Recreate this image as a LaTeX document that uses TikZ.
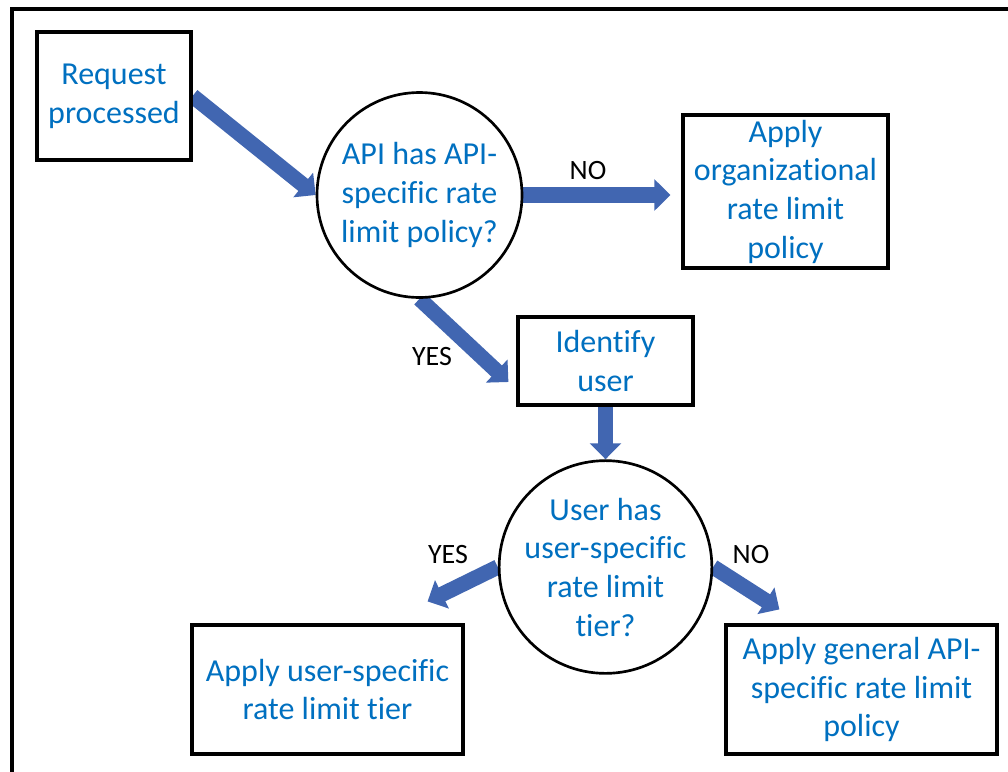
\documentclass[tikz,border=0pt]{standalone}
\usepackage{fontspec}
\setmainfont{Carlito}[Ligatures=NoCommon]
\usetikzlibrary{arrows.meta,backgrounds}
\definecolor{txtblue}{HTML}{0070C0}
\definecolor{arrblue}{HTML}{4166B1}
\begin{document}
\begin{tikzpicture}[x=0.75pt,y=-0.75pt,
  box/.style={draw=black, line width=2.4pt, fill=white, inner sep=0pt, align=center,
    text=txtblue, font=\fontsize{24}{29}\selectfont},
  dec/.style={draw=black, line width=2pt, fill=white, circle, inner sep=0pt,
    minimum size=153.75pt, align=center, text=txtblue, font=\fontsize{24}{29}\selectfont},
  flow/.style={draw=arrblue, line width=11.5pt, -{Triangle[length=12pt,width=23pt]}},
  lbl/.style={font=\fontsize{21}{25}\selectfont, text=black, inner sep=0pt}]
\useasboundingbox (0,0) rectangle (1008,772);
\draw[line width=2.4pt] (12,9) rectangle (1040,800);

\node[box, minimum width=115.5pt, minimum height=96pt] (req) at (114,96) {Request\\processed};
\node[dec] (c1) at (419.5,195) {API has API-\\specific rate\\limit policy?};
\node[box, minimum width=153.75pt, minimum height=114.75pt] (org) at (785.5,191.5) {Apply\\organizational\\rate limit\\policy};
\node[box, minimum width=131.25pt, minimum height=66pt] (id) at (605.5,361) {Identify\\user};
\node[dec] (c2) at (605.5,567) {User has\\user-specific\\rate limit\\tier?};
\node[box, minimum width=203.25pt, minimum height=96.75pt] (ua) at (327.5,689.5) {Apply user-specific\\rate limit tier};
\node[box, minimum width=203.25pt, minimum height=96.75pt] (ug) at (861.5,689.5) {Apply general API-\\specific rate limit\\policy};

\coordinate (yes1tip) at ([shift={(-8,21)}]id.west);
\coordinate (yes2tip) at ([shift={(-37,-22)}]ua.north east);
\coordinate (no2tip) at ([shift={(55,-14)}]ug.north west);

\begin{scope}[on background layer]
\draw[flow] (req.east) -- (c1.west);
\draw[flow, shorten >=8.25pt] (c1.east) -- (c1.east -| org.west);
\draw[flow] (c1.south) -- (yes1tip);
\draw[flow] (id.south) -- (c2.north);
\draw[flow] (c2.west) -- (yes2tip);
\draw[flow] (c2.east) -- (no2tip);
\end{scope}

\node[lbl] (no1) at (588,171) {NO};
\node[lbl] (yes1) at (432,357) {YES};
\node[lbl] (yes2) at (448,555) {YES};
\node[lbl] (no2) at (751,555) {NO};
\end{tikzpicture}
\end{document}
